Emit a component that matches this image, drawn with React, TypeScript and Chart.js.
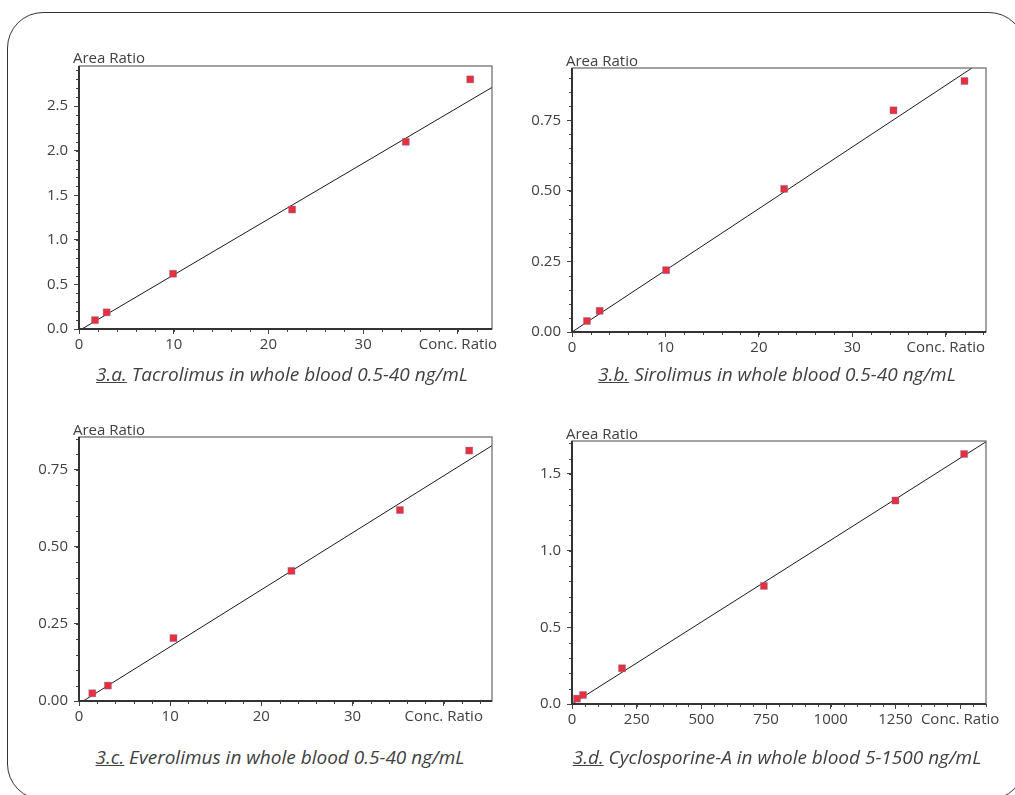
import React, { useEffect, useRef } from "react";
import { Chart, registerables } from "chart.js";

Chart.register(...registerables);

// ---------- Data ----------
// 3.a Tacrolimus
const tacConc = [1.69, 2.92, 9.93, 22.5, 34.5, 41.3];
const tacArea = [0.10, 0.187, 0.62, 1.34, 2.10, 2.80];
const tacFitConc = [0.3, 43.6];
const tacFitArea = [0, 2.71];
const tacXTicks = [0, 10, 20, 30, 40];
const tacXLabels = ["0", "10", "20", "30", "Conc. Ratio"];
const tacYTicks = [0, 0.5, 1.0, 1.5, 2.0, 2.5];
const tacYLabels = ["0.0", "0.5", "1.0", "1.5", "2.0", "2.5"];

// 3.b Sirolimus
const sirConc = [1.6, 2.96, 10.07, 22.7, 34.4, 42.0];
const sirArea = [0.039, 0.075, 0.219, 0.507, 0.785, 0.889];
const sirFitConc = [0, 42.8];
const sirFitArea = [0, 0.935];
const sirXTicks = [0, 10, 20, 30, 40];
const sirXLabels = ["0", "10", "20", "30", "Conc. Ratio"];
const sirYTicks = [0, 0.25, 0.5, 0.75];
const sirYLabels = ["0.00", "0.25", "0.50", "0.75"];

// 3.c Everolimus
const evrConc = [1.46, 3.17, 10.36, 23.3, 35.2, 42.8];
const evrArea = [0.025, 0.05, 0.204, 0.422, 0.619, 0.812];
const evrFitConc = [0.47, 45.3];
const evrFitArea = [0, 0.828];
const evrXTicks = [0, 10, 20, 30, 40];
const evrXLabels = ["0", "10", "20", "30", "Conc. Ratio"];
const evrYTicks = [0, 0.25, 0.5, 0.75];
const evrYLabels = ["0.00", "0.25", "0.50", "0.75"];

// 3.d Cyclosporine-A
const cycConc = [19.3, 42.6, 193.5, 741.5, 1250, 1515.5];
const cycArea = [0.035, 0.059, 0.233, 0.77, 1.327, 1.63];
const cycFitConc = [0, 1600];
const cycFitArea = [0, 1.71];
const cycXTicks = [0, 250, 500, 750, 1000, 1250, 1500];
const cycXLabels = ["0", "250", "500", "750", "1000", "1250", "Conc. Ratio"];
const cycYTicks = [0, 0.5, 1.0, 1.5];
const cycYLabels = ["0.0", "0.5", "1.0", "1.5"];

// ---------- Styles / layout ----------
const FONT = '"Open Sans", "Noto Sans", "DejaVu Sans", sans-serif';
const TEXT = "#404040";
const LEFTW = 60;
const TOPPAD = 20;
const RIGHTPAD = 30;
const BOTTOMH = 35;

type PanelDef = {
  conc: number[];
  area: number[];
  fitConc: number[];
  fitArea: number[];
  xTicks: number[];
  xLabels: string[];
  yTicks: number[];
  yLabels: string[];
  xMax: number;
  yMax: number;
  xMinor: number;
  yMinor: number;
  rect: { left: number; top: number; right: number; bottom: number };
  tag: string;
  caption: string;
  capX: number;
  capY: number;
  yTitleTop: number;
};

const panels: PanelDef[] = [
  {
    conc: tacConc, area: tacArea, fitConc: tacFitConc, fitArea: tacFitArea,
    xTicks: tacXTicks, xLabels: tacXLabels, yTicks: tacYTicks, yLabels: tacYLabels,
    xMax: 43.6, yMax: 2.95, xMinor: 2, yMinor: 0.1,
    rect: { left: 79, top: 66, right: 492, bottom: 329 },
    tag: "3.a.", caption: " Tacrolimus in whole blood 0.5-40 ng/mL",
    capX: 282, capY: 375, yTitleTop: 47,
  },
  {
    conc: sirConc, area: sirArea, fitConc: sirFitConc, fitArea: sirFitArea,
    xTicks: sirXTicks, xLabels: sirXLabels, yTicks: sirYTicks, yLabels: sirYLabels,
    xMax: 44.3, yMax: 0.935, xMinor: 2, yMinor: 0.05,
    rect: { left: 572, top: 68, right: 986, bottom: 332 },
    tag: "3.b.", caption: " Sirolimus in whole blood 0.5-40 ng/mL",
    capX: 777, capY: 375, yTitleTop: 50,
  },
  {
    conc: evrConc, area: evrArea, fitConc: evrFitConc, fitArea: evrFitArea,
    xTicks: evrXTicks, xLabels: evrXLabels, yTicks: evrYTicks, yLabels: evrYLabels,
    xMax: 45.3, yMax: 0.856, xMinor: 2, yMinor: 0.05,
    rect: { left: 79, top: 437, right: 492, bottom: 701 },
    tag: "3.c.", caption: " Everolimus in whole blood 0.5-40 ng/mL",
    capX: 280, capY: 758, yTitleTop: 419,
  },
  {
    conc: cycConc, area: cycArea, fitConc: cycFitConc, fitArea: cycFitArea,
    xTicks: cycXTicks, xLabels: cycXLabels, yTicks: cycYTicks, yLabels: cycYLabels,
    xMax: 1600, yMax: 1.715, xMinor: 50, yMinor: 0.1,
    rect: { left: 572, top: 441, right: 986, bottom: 704 },
    tag: "3.d.", caption: " Cyclosporine-A in whole blood 5-1500 ng/mL",
    capX: 777, capY: 758, yTitleTop: 423,
  },
];

const framePlugin = {
  id: "plotFrame",
  afterDraw(chart: any, _args: any, opts: any) {
    const { ctx, chartArea, scales } = chart;
    const xs = scales.x;
    const ys = scales.y;
    ctx.save();
    // minor ticks
    ctx.strokeStyle = "#444";
    ctx.lineWidth = 1;
    ctx.beginPath();
    const nx = Math.floor(xs.max / opts.xMinor + 1e-6);
    for (let i = 0; i <= nx; i++) {
      const px = Math.round(xs.getPixelForValue(i * opts.xMinor)) + 0.5;
      ctx.moveTo(px, chartArea.bottom);
      ctx.lineTo(px, chartArea.bottom + 3);
    }
    const ny = Math.floor(ys.max / opts.yMinor + 1e-6);
    for (let i = 0; i <= ny; i++) {
      const py = Math.round(ys.getPixelForValue(i * opts.yMinor)) + 0.5;
      ctx.moveTo(chartArea.left, py);
      ctx.lineTo(chartArea.left - 3, py);
    }
    ctx.stroke();
    // frame
    ctx.strokeStyle = "#666";
    ctx.lineWidth = 1.2;
    ctx.strokeRect(chartArea.left, chartArea.top, chartArea.right - chartArea.left, chartArea.bottom - chartArea.top);
    ctx.strokeStyle = "#333";
    ctx.lineWidth = 2;
    ctx.beginPath();
    ctx.moveTo(chartArea.left, chartArea.top);
    ctx.lineTo(chartArea.left, chartArea.bottom);
    ctx.lineTo(chartArea.right, chartArea.bottom);
    ctx.stroke();
    ctx.restore();
  },
};

function PanelChart({ p }: { p: PanelDef }) {
  const ref = useRef<HTMLCanvasElement>(null);
  const w = p.rect.right - p.rect.left + LEFTW + RIGHTPAD;
  const h = p.rect.bottom - p.rect.top + TOPPAD + BOTTOMH;

  useEffect(() => {
    if (!ref.current) return;
    const chart = new Chart(ref.current, {
      type: "scatter",
      data: {
        datasets: [
          {
            type: "scatter",
            data: p.conc.map((x, i) => ({ x, y: p.area[i] })),
            backgroundColor: "#e8303a",
            borderColor: "rgba(100,120,210,0.45)",
            borderWidth: 0.8,
            pointStyle: "rect",
            pointRadius: 5,
            order: 0,
          },
          {
            type: "line",
            data: p.fitConc.map((x, i) => ({ x, y: p.fitArea[i] })),
            borderColor: "#1a1a1a",
            borderWidth: 1,
            pointRadius: 0,
            fill: false,
            order: 1,
          } as any,
        ],
      },
      options: {
        responsive: false,
        animation: false,
        events: [],
        layout: { padding: { top: TOPPAD, right: RIGHTPAD, left: 0, bottom: 0 } },
        plugins: {
          legend: { display: false },
          tooltip: { enabled: false },
          plotFrame: { xMinor: p.xMinor, yMinor: p.yMinor },
        } as any,
        scales: {
          x: {
            type: "linear",
            min: 0,
            max: p.xMax,
            afterBuildTicks: (s: any) => {
              s.ticks = p.xTicks.map((value) => ({ value }));
            },
            afterFit: (s: any) => {
              s.height = BOTTOMH;
            },
            ticks: {
              callback: (_v: any, i: number) => p.xLabels[i],
              font: { family: FONT, size: 15 },
              color: TEXT,
              padding: 2,
              maxRotation: 0,
              autoSkip: false,
              includeBounds: false,
            },
            grid: { drawOnChartArea: false, drawTicks: true, tickLength: 5, color: "#444", lineWidth: 1 },
            border: { display: false },
          },
          y: {
            type: "linear",
            min: 0,
            max: p.yMax,
            afterBuildTicks: (s: any) => {
              s.ticks = p.yTicks.map((value) => ({ value }));
            },
            afterFit: (s: any) => {
              s.width = LEFTW;
            },
            ticks: {
              callback: (_v: any, i: number) => p.yLabels[i],
              font: { family: FONT, size: 15 },
              color: TEXT,
              padding: 6,
              autoSkip: false,
              includeBounds: false,
            },
            grid: { drawOnChartArea: false, drawTicks: true, tickLength: 5, color: "#444", lineWidth: 1 },
            border: { display: false },
          },
        },
      } as any,
      plugins: [framePlugin],
    });
    return () => chart.destroy();
  }, [p]);

  return (
    <>
      <canvas
        ref={ref}
        width={w}
        height={h}
        style={{ position: "absolute", left: p.rect.left - LEFTW, top: p.rect.top - TOPPAD, width: w, height: h }}
      />
      <div
        style={{
          position: "absolute",
          left: p.rect.left - 6,
          top: p.yTitleTop,
          font: `15px ${FONT}`,
          lineHeight: "20px",
          color: TEXT,
          whiteSpace: "nowrap",
        }}
      >
        Area Ratio
      </div>
      <div
        style={{
          position: "absolute",
          left: p.capX - 250,
          width: 500,
          top: p.capY - 14,
          textAlign: "center",
          font: `italic 19px ${FONT}`,
          lineHeight: "26px",
          color: TEXT,
          whiteSpace: "nowrap",
        }}
      >
        <span style={{ textDecoration: "underline" }}>{p.tag}</span>
        {p.caption}
      </div>
    </>
  );
}

export default function App() {
  return (
    <div
      style={{
        position: "absolute",
        left: 0,
        top: 0,
        width: 1015,
        height: 795,
        overflow: "hidden",
        background: "#fff",
      }}
    >
      <div
        style={{
          position: "absolute",
          left: 7,
          top: 12,
          width: 1018,
          height: 788,
          border: "1.5px solid #333",
          borderRadius: 36,
          boxSizing: "border-box",
        }}
      />
      {panels.map((p, i) => (
        <PanelChart key={i} p={p} />
      ))}
    </div>
  );
}
